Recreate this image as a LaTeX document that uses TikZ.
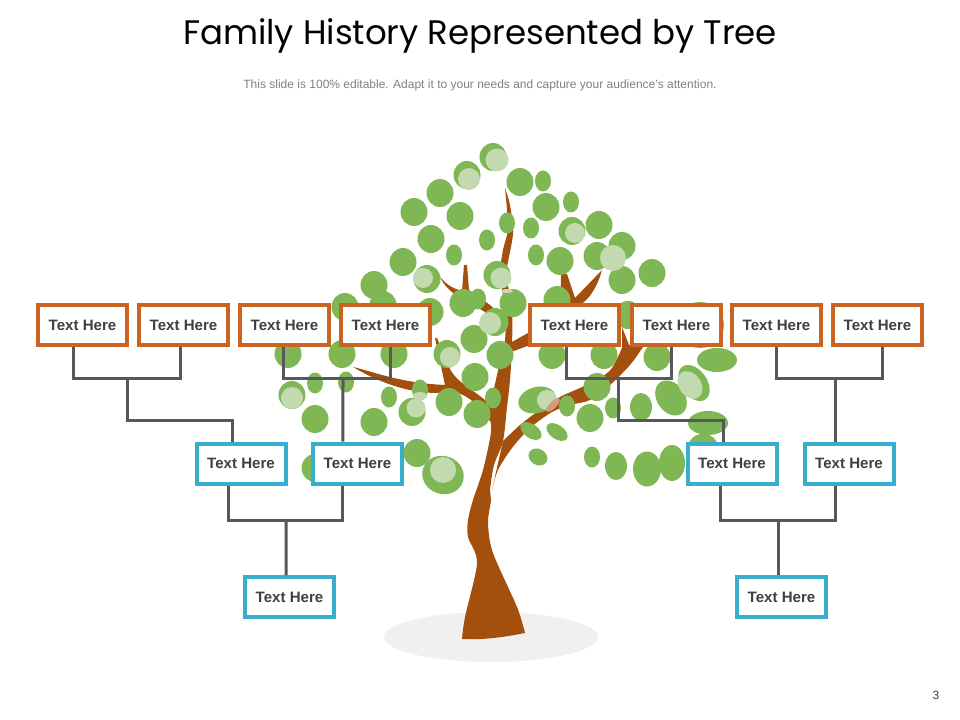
\documentclass[tikz,border=0pt]{standalone}
\usepackage{fontspec}
\setmainfont{Liberation Sans}
\newfontfamily\titlefont{Poppins}
\definecolor{leafgreen}{HTML}{7FB755}
\definecolor{leaflight}{HTML}{C3DAB1}
\definecolor{barkbrown}{HTML}{A34F0D}
\definecolor{topedge}{HTML}{C8641F}
\definecolor{lowedge}{HTML}{38AECD}
\definecolor{wiregrey}{HTML}{58585A}
\definecolor{labelgrey}{HTML}{3F3F45}
\tikzset{
    leaf/.style={fill=leafgreen},
    glow/.style={fill=leaflight},
    bark/.style={fill=barkbrown},
    wire/.style={draw=wiregrey,line width=2.25pt},
    namebox/.style={fill=white,line width=3pt,minimum width=66.75pt,minimum height=30pt,inner sep=0pt,
        font=\fontsize{11.3pt}{13pt}\selectfont\bfseries,text=labelgrey},
    topbox/.style={namebox,draw=topedge},
    lowbox/.style={namebox,draw=lowedge}
}
\begin{document}
\begin{tikzpicture}[x=0.75pt,y=-0.75pt]
    \useasboundingbox (0,0) rectangle (960,720);

    \node[font=\titlefont\fontsize{25.5pt}{30pt}\selectfont] (title) at (480,36) {Family History Represented by Tree};
    \node[font=\fontsize{9pt}{11pt}\selectfont,text=gray] (subtitle) at (480,85) {This slide is 100\% editable. Adapt it to your needs and capture your audience's attention.};
    \node[font=\fontsize{9pt}{11pt}\selectfont,text=labelgrey] (pagenum) at (936,695) {3};

    % ground shadow
    \fill[black!6] (491,637) ellipse (107 and 25);

    % trunk and branches
    \fill[bark] plot[smooth,tension=0.5] coordinates {(462,639) (465,617) (477,563) (468,537) (468,520) (473,500) (483,470) (491,432) (490,410) (497,375) (505,340) (505,307) (500,275) (503,250) (508,230) (507,210) (505,188)}
        -- plot[smooth,tension=0.5] coordinates {(505,188) (510,205) (513,233) (508,262) (506,275) (512,307) (512,345) (510,380) (507,407) (503,441) (494,465) (490,490) (491,500) (488,523) (493,553) (517,607) (525,633)}
        .. controls (500,638) and (480,640) .. (462,639) -- cycle;
    \fill[bark] plot[smooth,tension=0.5] coordinates {(503,441) (520,425) (537,412) (560,397) (580,388) (600,378) (612,368) (622,348)}
        -- (622,327) -- (629,345) -- (643,347)
        -- plot[smooth,tension=0.5] coordinates {(643,347) (630,365) (610,385) (590,400) (570,405) (552,412) (530,428) (512,448) (498,470) (492,490)} -- cycle;
    \fill[bark] (353,367) .. controls (375,372) and (400,383) .. (445,385) -- (435,338) -- (437,338) -- (450,369)
        .. controls (458,385) and (480,392) .. (495,410) -- (492,424)
        .. controls (480,405) and (465,392) .. (450,392) .. controls (430,395) and (395,392) .. (353,367) -- cycle;
    \fill[bark] (510,343) -- (528,333) -- (560,318) -- (561,274) -- (567,274) -- (575,298) -- (602,270)
        .. controls (598,285) and (590,300) .. (578,306) -- (565,325) -- (530,345) -- (511,352) -- cycle;
    \fill[bark] (440,277) .. controls (447,285) and (452,288) .. (462,291) -- (464,265) -- (467,265) -- (469,290)
        -- (490,305) -- (506,320) -- (506,328) -- (485,312) -- (458,296) .. controls (450,292) and (444,285) .. (440,277) -- cycle;

    % leaves
    \foreach \x/\y in {493/157,467/175,440/193,414/212,460/216,431/239,403/262,427/279,374/285,345/307,383/305,430/312,463/303,497/275,495/322,474/339,447/354,500/355,288/354,342/354,394/354,292/395,315/419,374/422,412/412,449/402,477/414,475/377,417/453,315/468,552/355,604/355,657/357,597/387,590/418,520/182,546/207,572/231,599/225,560/261,597/256,622/246,622/280,652/273,557/300,628/315,513/303}
        \fill[leaf] (\x,\y) ellipse (13.5 and 14);
    \foreach \x/\y in {487/240,454/255,478/299,315/383,346/382,389/397,420/390,493/398,613/408,592/457,567/406,543/181,571/202,507/223,531/228,536/255}
        \fill[leaf] (\x,\y) ellipse (8 and 10.5);
    \fill[leaf] (700,325) ellipse (24 and 23);
    \fill[leaf] (717,360) ellipse (20 and 12);
    \fill[leaf] (708,423) ellipse (20 and 12);
    \fill[leaf] (703,447) ellipse (15 and 13);
    \fill[leaf] (641,407) ellipse (11 and 14);
    \fill[leaf] (672,463) ellipse (13 and 18);
    \fill[leaf] (647,469) ellipse (14 and 17.5);
    \fill[leaf] (616,466) ellipse (11 and 14);
    \fill[leaf,rotate around={35:(671,398)}] (671,398) ellipse (14 and 19);
    \fill[leaf,rotate around={35:(694,383)}] (694,383) ellipse (13 and 20);
    \fill[leaf,rotate around={-20:(443,475)}] (443,475) ellipse (21 and 19);
    \fill[leaf,rotate around={-30:(538,457)}] (538,457) ellipse (10 and 8);
    \fill[leaf,rotate around={-35:(557,432)}] (557,432) ellipse (12 and 7);
    \fill[leaf,rotate around={-35:(531,431)}] (531,431) ellipse (12 and 7);
    \fill[leaf,rotate around={15:(537,400)}] (537,400) ellipse (19 and 13);

    % pale patches on the leaves
    \foreach \x/\y/\r in {497/160/11.5,469/179/11,423/278/10,501/278/10.5,490/323/11,450/357/10,292/398/11,416/408/9.5,443/470/13,613/258/13,575/233/10,547/400/10}
        \fill[glow] (\x,\y) circle (\r);
    \fill[glow] (420,396) ellipse (7 and 4);
    \fill[glow] (507,291) ellipse (6 and 2);
    \fill[glow,rotate around={35:(690,385)}] (690,385) ellipse (11 and 15);
    \fill[barkbrown!55!white,rotate around={45:(553,405)}] (553,405) ellipse (9 and 3.5);

    % name boxes
    \foreach \name/\x in {ta/82.5,tb/183.5,tc/284.5,td/385.5,te/574.5,tf/676.5,tg/776.5,th/877.5}
        \node[topbox] (\name) at (\x,325) {Text Here};
    \foreach \name/\x in {ba/241,bb/357.5,bc/732,bd/849}
        \node[lowbox] (\name) at (\x,463.5) {Text Here};
    \node[lowbox] (ra) at (289.5,597) {Text Here};
    \node[lowbox] (rb) at (781.5,597) {Text Here};

    % connectors
    \coordinate (ja) at (127,378);
    \coordinate (ka) at (127,420);
    \coordinate (jb) at (343,378);
    \coordinate (jc) at (286,520);
    \coordinate (jd) at (618,378);
    \coordinate (kd) at (618,420);
    \coordinate (je) at (835,378);
    \coordinate (jf) at (778.5,520);
    \draw[wire] ([xshift=-6.4pt]ta.south) |- (ja) -| ([xshift=-1.9pt]tb.south);
    \draw[wire] (ja) -- (ka) -| ([xshift=-6.75pt]ba.north);
    \draw[wire] ([xshift=-0.4pt]tc.south) |- (jb) -| ([xshift=3.75pt]td.south);
    \draw[wire] (jb) -- ([xshift=-10.9pt]bb.north);
    \draw[wire] ([xshift=-9.75pt]ba.south) |- (jc) -| ([xshift=-10.9pt]bb.south);
    \draw[wire] (jc) -- ([xshift=-2.6pt]ra.north);
    \draw[wire] ([xshift=-6pt]te.south) |- (jd) -| ([xshift=-3.4pt]tf.south);
    \draw[wire] (jd) -- (kd) -| ([xshift=-6.75pt]bc.north);
    \draw[wire] (tg.south) |- (je) -| ([xshift=3.4pt]th.south);
    \draw[wire] (je) -- ([xshift=-10.5pt]bd.north);
    \draw[wire] ([xshift=-9pt]bc.south) |- (jf) -| ([xshift=-10.5pt]bd.south);
    \draw[wire] (jf) -- ([xshift=-2.25pt]rb.north);
\end{tikzpicture}
\end{document}
